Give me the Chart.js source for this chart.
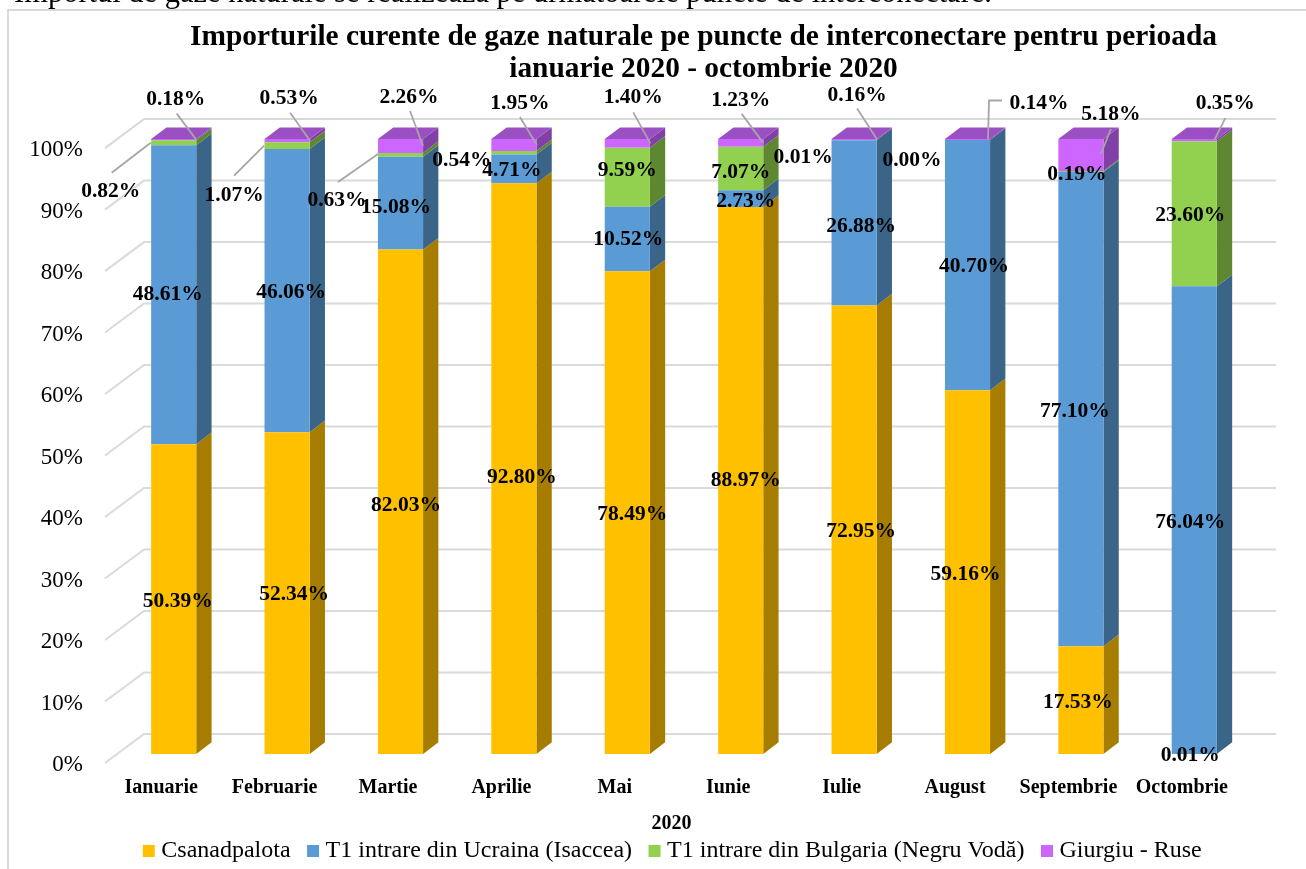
<!DOCTYPE html>
<html><head><meta charset="utf-8">
<style>html,body{margin:0;padding:0;background:#fff;overflow:hidden}canvas{display:block}</style>
<script src="https://cdn.jsdelivr.net/npm/chart.js@4"></script>
</head><body>
<div style="position:relative;width:1306px;height:869px"><canvas id="c" width="1306" height="869"></canvas></div>
<script>
const months = ["Ianuarie","Februarie","Martie","Aprilie","Mai","Iunie","Iulie","August","Septembrie","Octombrie"];
const csanadpalota = [50.39,52.34,82.03,92.80,78.49,88.97,72.95,59.16,17.53,0.01];
const isaccea      = [48.61,46.06,15.08,4.71,10.52,2.73,26.88,40.70,77.10,76.04];
const negruVoda    = [0.82,1.07,0.63,0.54,9.59,7.07,0.01,0.00,0.19,23.60];
const giurgiuRuse  = [0.18,0.53,2.26,1.95,1.40,1.23,0.16,0.14,5.18,0.35];
const percentTicks = [0,10,20,30,40,50,60,70,80,90,100];
const chartTitle = ["Importurile curente de gaze naturale pe puncte de interconectare pentru perioada","ianuarie 2020 - octombrie 2020"];
const pageText = "Importul de gaze naturale se realizează pe următoarele puncte de interconectare.";

const seriesNames = ["Csanadpalota","T1 intrare din Ucraina (Isaccea)","T1 intrare din Bulgaria (Negru Vodă)","Giurgiu - Ruse"];
const faceColors = ["#FFC000","#5B9BD5","#92D050","#CC66FF"];
const sideColors = ["#A67D00","#3A6488","#5F8732","#8040A6"];
const topColor = "#9A50C2";
const gridColor = "#DADADA", leaderColor = "#A6A6A6";
const depth = {x:15.3, y:-11.7};

// label placement, offset from the middle of each segment
const labelShift = [
 [[4,1],[7,0],[5.5,2],[8,7],[5,0],[5,-2],[7,0],[-2,1],[-3,1],[-4,0]],
 [[-6,-2],[4,0],[-4.5,3],[-2,0],[1,-1],[5,1],[7,2],[6.5,0],[-6,1],[-4,1]],
 [[-63,47],[-53,48],[-63.5,44],[-52,6],[0,-8],[0,3],[-51,16],[-55.5,19],[-4,1],[-4,0]],
 [[2,-42],[2,-44],[8.5,-50],[6,-43],[6,-47],[0,-44],[3,-46],[71.5,-38],[30,-42],[31,-38]]
];
// leader lines: series, month, start (from label centre), end (from segment middle), optional elbow x from end
const leaders = [
 [2,0,[1,-17],[-23,0]],[3,0,[1,16],[22.5,0]],
 [2,1,[0,-18],[-23,0]],[3,1,[1,16],[23,0]],
 [2,2,[1,-17],[-22.5,-1]],[3,2,[1,15],[22.5,0]],
 [3,3,[0,15],[23,0]],[3,4,[0,16],[23,0]],[3,5,[1,15],[22.5,0]],[3,6,[0,15],[23,0]],
 [3,7,[-37,-1],[20.5,0],1],[3,8,[0,16],[20,-1]],[3,9,[0,16],[20,0]]
];

const threeD = {
 id:"threeD",
 afterLayout(chart){
  // the original centres title and legend away from the plot centre
  chart.titleBlock.left += 156;
  chart.legend.left += 99;
  const lg = chart.legend;
  lg.top = 817; lg.bottom = lg.top + lg.height;
 },
 beforeDraw(chart){
  const c = chart.ctx;
  c.save();
  c.fillStyle="#fff"; c.fillRect(0,0,1306,869);
  c.strokeStyle="#D9D9D9"; c.lineWidth=2;
  c.beginPath(); c.moveTo(8,869); c.lineTo(8,10); c.lineTo(1306,10); c.stroke();
  c.fillStyle="#000"; c.font="30.5px 'Liberation Serif'"; c.textAlign="left"; c.textBaseline="alphabetic";
  c.fillText(pageText,14,2);
  c.restore();
 },
 beforeDatasetsDraw(chart){
  const c = chart.ctx, y = chart.scales.y, a = chart.chartArea;
  c.save();
  c.strokeStyle = gridColor; c.lineWidth = 2;
  percentTicks.forEach(t=>{
   const p = y.getPixelForValue(t);
   c.beginPath();
   c.moveTo(a.left-12, p+9);
   c.lineTo(a.left+27, p-20);
   c.lineTo(a.right+25, p-20);
   c.stroke();
  });
  chart.data.datasets.forEach((ds,d)=>{
   chart.getDatasetMeta(d).data.forEach(bar=>{
    const r = bar.x + bar.width/2;
    c.fillStyle = sideColors[d];
    c.beginPath();
    c.moveTo(r,bar.base); c.lineTo(r+depth.x,bar.base+depth.y);
    c.lineTo(r+depth.x,bar.y+depth.y); c.lineTo(r,bar.y);
    c.closePath(); c.fill();
   });
  });
  const last = chart.getDatasetMeta(chart.data.datasets.length-1).data;
  last.forEach(bar=>{
   const l = bar.x-bar.width/2, r = bar.x+bar.width/2, t = y.getPixelForValue(100);
   c.fillStyle = topColor;
   c.beginPath();
   c.moveTo(l,t); c.lineTo(r,t); c.lineTo(r+depth.x,t+depth.y); c.lineTo(l+depth.x,t+depth.y);
   c.closePath(); c.fill();
  });
  c.restore();
 },
 afterDatasetsDraw(chart){
  const c = chart.ctx;
  const mid = (d,i)=>{const b=chart.getDatasetMeta(d).data[i]; return {x:b.x,y:(b.y+b.base)/2};};
  c.save();
  c.strokeStyle = leaderColor; c.lineWidth = 1.8;
  leaders.forEach(([d,i,from,to,elbow])=>{
   const m = mid(d,i), s = labelShift[d][i];
   const sx = m.x+s[0]+from[0], sy = m.y+s[1]+from[1], ex = m.x+to[0], ey = m.y+to[1];
   c.beginPath(); c.moveTo(sx,sy);
   if(elbow) c.lineTo(ex+elbow,sy);
   c.lineTo(ex,ey); c.stroke();
  });
  c.fillStyle="#000"; c.font="bold 21.5px 'Liberation Serif'"; c.textAlign="center"; c.textBaseline="middle";
  chart.data.datasets.forEach((ds,d)=>{
   ds.data.forEach((v,i)=>{
    const m = mid(d,i), s = labelShift[d][i];
    c.fillText(v.toFixed(2)+"%", m.x+s[0], m.y+s[1]+1.5);
   });
  });
  c.restore();
 }
};

new Chart(document.getElementById("c"),{
 type:"bar",
 data:{labels:months,datasets:[csanadpalota,isaccea,negruVoda,giurgiuRuse].map((data,k)=>({
   label:seriesNames[k],data,backgroundColor:faceColors[k],borderWidth:0,
   barPercentage:0.398,categoryPercentage:1
 }))},
 plugins:[threeD],
 options:{
  responsive:false,animation:false,
  layout:{padding:{left:0,right:55,top:0,bottom:0}},
  plugins:{
   title:{display:true,text:chartTitle,color:"#000",font:{family:"'Liberation Serif'",size:29.4,weight:"bold",lineHeight:1.09},padding:{top:21,bottom:54}},
   legend:{position:"bottom",labels:{color:"#000",font:{family:"'Liberation Serif'",size:24},usePointStyle:true,pointStyle:"rect",boxWidth:1,boxHeight:12,padding:22}},
   tooltip:{enabled:false}
  },
  scales:{
   x:{stacked:true,
      grid:{display:false},border:{display:false},
      ticks:{color:"#000",font:{family:"'Liberation Serif'",size:20,weight:"bold"},labelOffset:-12.5,maxRotation:0,autoSkip:false,padding:14},
      title:{display:true,text:"2020     ",color:"#000",font:{family:"'Liberation Serif'",size:20,weight:"bold"},padding:{top:0,bottom:-23}},
      afterFit(s){s.height=59;}
   },
   y:{stacked:true,min:0,max:100,
      grid:{display:false},border:{display:false},
      afterBuildTicks(s){s.ticks=percentTicks.map(value=>({value}));},
      ticks:{color:"#000",font:{family:"'Liberation Serif'",size:23},labelOffset:11,padding:26,callback:v=>v+"%"},
      afterFit(s){s.width=117;}
   }
  }
 }
});
</script>
</body></html>
